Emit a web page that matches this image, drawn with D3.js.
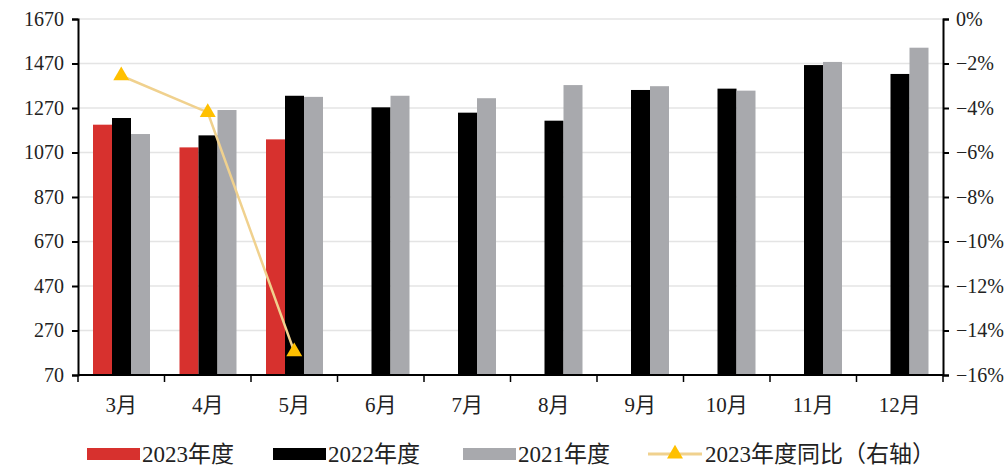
<!DOCTYPE html>
<html>
<head>
<meta charset="utf-8">
<script src="https://cdn.jsdelivr.net/npm/d3@7"></script>
<style>
  body { margin: 0; background: #fff; }
  svg text { font-family: "Liberation Serif", "Noto Sans CJK SC", serif; fill: #222; }
</style>
</head>
<body>
<svg id="chart" width="1005" height="466"></svg>
<script>
// Daten
const months = ["3月", "4月", "5月", "6月", "7月", "8月", "9月", "10月", "11月", "12月"];
const v2023 = [1195, 1093, 1129, null, null, null, null, null, null, null];
const v2022 = [1225, 1147, 1325, 1273, 1249, 1213, 1351, 1357, 1463, 1423];
const v2021 = [1153, 1261, 1320, 1325, 1314, 1373, 1368, 1348, 1477, 1541];
const yoy2023 = [-2.55, -4.2, -14.95];
const leftTicks = [70, 270, 470, 670, 870, 1070, 1270, 1470, 1670];
const rightTicks = [0, -2, -4, -6, -8, -10, -12, -14, -16];

const seriesNames = ["2023年度", "2022年度", "2021年度"];
const seriesColors = ["#d7312e", "#000000", "#a8a9ad"];
const lineName = "2023年度同比（右轴）";

const plotL = 78, plotR = 943, plotT = 19, plotB = 375;
const svg = d3.select("#chart");

const x = d3.scaleBand().domain(months).range([plotL, plotR]).padding(0);
const xs = d3.scaleBand().domain(seriesNames).range([15, 72]).padding(0);
const y = d3.scaleLinear().domain([70, 1670]).range([plotB, plotT]);
const y2 = d3.scaleLinear().domain([-16, 0]).range([plotB, plotT]);

// Gitternetz
svg.append("g")
  .selectAll("line")
  .data(leftTicks)
  .join("line")
  .attr("x1", plotL).attr("x2", plotR)
  .attr("y1", d => y(d)).attr("y2", d => y(d))
  .attr("stroke", "#e4e4e4").attr("stroke-width", 1.5);

// Balken
const allSeries = [v2023, v2022, v2021];
allSeries.forEach((vals, si) => {
  svg.append("g")
    .selectAll("rect")
    .data(vals.map((v, i) => ({ m: months[i], v })).filter(d => d.v != null))
    .join("rect")
    .attr("x", d => x(d.m) + xs(seriesNames[si]))
    .attr("width", xs.bandwidth())
    .attr("y", d => y(d.v))
    .attr("height", d => y(70) - y(d.v))
    .attr("fill", seriesColors[si]);
});

// Achsen
const fmt = d => (d < 0 ? "\u2212" + Math.abs(d) : d) + "%";
const gl = svg.append("g").attr("transform", `translate(${plotL},0)`)
  .call(d3.axisLeft(y).tickValues(leftTicks).tickSize(6).tickPadding(8).tickFormat(d3.format("d")));
const gr = svg.append("g").attr("transform", `translate(${plotR},0)`)
  .call(d3.axisRight(y2).tickValues(rightTicks).tickSize(6).tickPadding(7).tickFormat(fmt));
const gb = svg.append("g").attr("transform", `translate(0,${plotB})`)
  .call(d3.axisBottom(x).tickSize(0).tickPadding(22));
// Tick-Striche an den Kategoriegrenzen
svg.append("g")
  .selectAll("line")
  .data(d3.range(months.length + 1))
  .join("line")
  .attr("x1", i => plotL + i * x.step()).attr("x2", i => plotL + i * x.step())
  .attr("y1", plotB).attr("y2", plotB + 7)
  .attr("stroke", "#000").attr("stroke-width", 1.5);

[gl, gr, gb].forEach(g => {
  g.selectAll(".domain").attr("stroke", "#000").attr("stroke-width", 2);
  g.selectAll(".tick line").attr("stroke", "#000").attr("stroke-width", 2);
  g.selectAll("text").attr("font-size", 20).attr("fill", "#222")
    .style("font-family", "'Liberation Serif','Noto Sans CJK SC',serif");
});
gb.selectAll("text").attr("font-size", 21);
gb.select(".domain").attr("d", `M${plotL},0H${plotR}`);

// Linie (rechte Achse)
const linePts = yoy2023.map((v, i) => [x(months[i]) + x.bandwidth() / 2, y2(v)]);
svg.append("path")
  .attr("d", d3.line()(linePts))
  .attr("fill", "none")
  .attr("stroke", "#f0d18e")
  .attr("stroke-width", 2.5);
const tri = d3.symbol().type(d3.symbolTriangle).size(110);
svg.append("g")
  .selectAll("path")
  .data(linePts)
  .join("path")
  .attr("d", tri)
  .attr("transform", d => `translate(${d[0]},${d[1]})`)
  .attr("fill", "#ffc000");

// Legende
const lg = svg.append("g").attr("transform", "translate(0,454)");
const legendX = [87, 273, 463];
seriesNames.forEach((n, i) => {
  lg.append("rect").attr("x", legendX[i]).attr("y", -6).attr("width", 53).attr("height", 12)
    .attr("fill", seriesColors[i]);
  lg.append("text").attr("x", legendX[i] + 55).attr("y", 0).attr("dy", "0.35em")
    .attr("font-size", 23).text(n);
});
lg.append("line").attr("x1", 648).attr("x2", 702).attr("y1", 0).attr("y2", 0)
  .attr("stroke", "#f0d18e").attr("stroke-width", 3);
lg.append("path").attr("d", tri).attr("transform", "translate(675,0)").attr("fill", "#ffc000");
lg.append("text").attr("x", 705).attr("y", 0).attr("dy", "0.35em")
  .attr("font-size", 23).text(lineName);
</script>
</body>
</html>
